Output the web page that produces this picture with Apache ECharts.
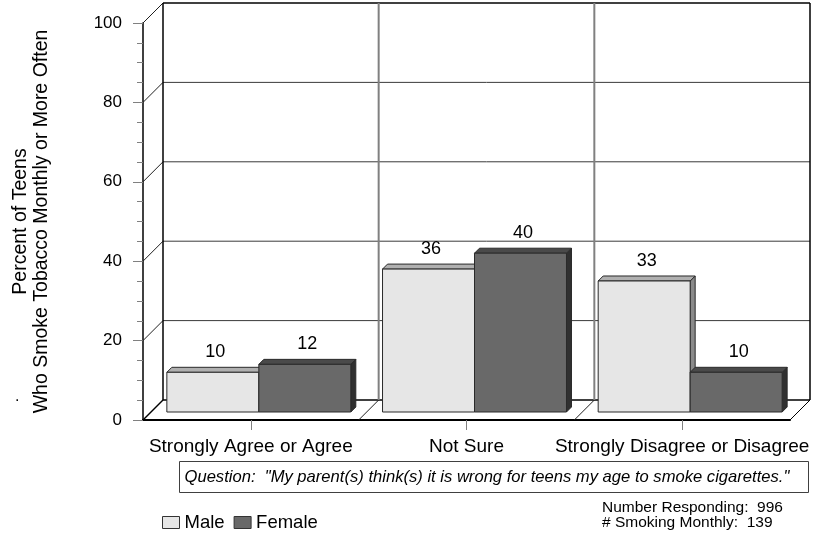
<!DOCTYPE html>
<html>
<head>
<meta charset="utf-8">
<script src="https://cdn.jsdelivr.net/npm/echarts@6/dist/echarts.min.js"></script>
<style>html,body{margin:0;padding:0;background:#fff;}#c{width:814px;height:535px;}</style>
</head>
<body>
<div id="c"></div>
<script>
const categories = ['Strongly Agree or Agree', 'Not Sure', 'Strongly Disagree or Disagree'];
const maleValues = [10, 36, 33];
const femaleValues = [12, 40, 10];
const yTicks = [0, 20, 40, 60, 80, 100];
const questionText = 'Question:  "My parent(s) think(s) it is wrong for teens my age to smoke cigarettes."';
const noteLines = ['Number Responding:  996', '# Smoking Monthly:  139'];

const FONT = '"Liberation Sans", Arial, sans-serif';
const WALL = 20;      // depth of the 3D box
const BAR_POS = 8;    // depth position of bars
const BAR_D = 5;      // bar thickness
const BAR_W = 0.4265; // fraction of band per bar

const chart = echarts.init(document.getElementById('c'), null, {renderer: 'canvas'});

function barRenderer(side, fill, top, sideCol) {
  return function (params, api) {
    const idx = api.value(0);
    const val = api.value(1);
    const p = api.coord([idx, val]);
    const p0 = api.coord([idx, 0]);
    const band = api.size([1, 0])[0];
    let x0, x1;
    if (side === 'left') { x0 = p[0] - band * BAR_W; x1 = p[0]; }
    else { x0 = p[0]; x1 = p[0] + band * BAR_W; }
    x0 += BAR_POS; x1 += BAR_POS;
    const yt = p[1] - BAR_POS, yb = p0[1] - BAR_POS;
    const D = BAR_D;
    const stroke = {stroke: '#2a2a2a', lineWidth: 1};
    return {
      type: 'group',
      children: [
        {type: 'polygon', shape: {points: [[x1, yt], [x1 + D, yt - D], [x1 + D, yb - D], [x1, yb]]},
          style: Object.assign({fill: sideCol}, stroke)},
        {type: 'polygon', shape: {points: [[x0, yt], [x0 + D, yt - D], [x1 + D, yt - D], [x1, yt]]},
          style: Object.assign({fill: top}, stroke)},
        {type: 'rect', shape: {x: x0, y: yt, width: x1 - x0, height: yb - yt},
          style: Object.assign({fill: fill}, stroke)},
        {type: 'text', style: {text: String(val), x: (x0 + x1) / 2 + D / 2, y: yt - D - 6,
          align: 'center', verticalAlign: 'bottom', fill: '#000', font: '18px ' + FONT}}
      ]
    };
  };
}

function gridRenderer(params, api) {
  const v = api.value(0);
  const cs = params.coordSys;
  const y = api.coord([0, v])[1];
  const xl = cs.x, xr = cs.x + cs.width;
  const isEdge = (v === yTicks[0] || v === yTicks[yTicks.length - 1]);
  const col = isEdge ? '#000' : '#3a3a3a';
  const children = [
    {type: 'line', shape: {x1: xl + WALL, y1: y - WALL, x2: xr + WALL, y2: y - WALL},
      style: {stroke: col, lineWidth: isEdge ? 1.5 : 1}}
  ];
  if (v !== yTicks[0]) {
    children.push({type: 'line', shape: {x1: xl, y1: y, x2: xl + WALL, y2: y - WALL},
      style: {stroke: '#202020', lineWidth: 1}});
  }
  return {type: 'group', children: children};
}

function frameRenderer(params, api) {
  const idx = api.value(0);
  const c = api.coord([idx, 0]);
  const yTop = api.coord([idx, yTicks[yTicks.length - 1]])[1];
  const band = api.size([1, 0])[0];
  const yb = c[1];
  const children = [];
  const xr = c[0] + band / 2;
  children.push({type: 'line', shape: {x1: xr, y1: yb, x2: xr + WALL, y2: yb - WALL},
    style: {stroke: idx === categories.length - 1 ? '#000' : '#202020', lineWidth: 1}});
  if (idx < categories.length - 1) {
    children.push({type: 'line', shape: {x1: xr + WALL, y1: yTop - WALL, x2: xr + WALL, y2: yb - WALL},
      style: {stroke: '#808080', lineWidth: 2}});
  } else {
    children.push({type: 'line', shape: {x1: xr + WALL, y1: yTop - WALL, x2: xr + WALL, y2: yb - WALL},
      style: {stroke: '#000', lineWidth: 1.5}});
  }
  if (idx === 0) {
    const xl = c[0] - band / 2;
    children.push({type: 'line', shape: {x1: xl, y1: yb, x2: xl + WALL, y2: yb - WALL},
      style: {stroke: '#000', lineWidth: 1.5}});
    children.push({type: 'line', shape: {x1: xl + WALL, y1: yTop - WALL, x2: xl + WALL, y2: yb - WALL},
      style: {stroke: '#000', lineWidth: 1.5}});
  }
  return {type: 'group', children: children};
}

const option = {
  backgroundColor: '#fff',
  animation: false,
  grid: {left: 143, right: 24, top: 23, bottom: 115},
  legend: {
    left: 157, top: 508, itemWidth: 17, itemHeight: 12, itemGap: 9,
    icon: 'rect',
    textStyle: {fontFamily: FONT, fontSize: 18.5, color: '#000'},
    data: [
      {name: 'Male', itemStyle: {color: '#e6e6e6', borderColor: '#333', borderWidth: 1}},
      {name: 'Female', itemStyle: {color: '#696969', borderColor: '#333', borderWidth: 1}}
    ]
  },
  xAxis: {
    type: 'category', data: categories, boundaryGap: true,
    axisLine: {show: true, lineStyle: {color: '#000', width: 2}},
    axisTick: {show: true, alignWithLabel: true, length: 10, lineStyle: {color: '#808080', width: 1}},
    axisLabel: {margin: 17, fontFamily: FONT, fontSize: 19, color: '#000', interval: 0},
    splitLine: {show: false}
  },
  yAxis: {
    type: 'value', min: 0, max: 100, interval: 20,
    name: 'Percent of Teens\nWho Smoke Tobacco Monthly or More Often',
    nameLocation: 'middle', nameRotate: 90, nameGap: 91,
    nameTextStyle: {fontFamily: FONT, fontSize: 19.5, lineHeight: 21, color: '#000'},
    axisLine: {show: true, lineStyle: {color: '#000', width: 1.5}},
    axisTick: {show: true, length: 10, lineStyle: {color: '#808080', width: 1}},
    minorTick: {show: true, splitNumber: 4, length: 6, lineStyle: {color: '#808080', width: 1}},
    axisLabel: {margin: 21, fontFamily: FONT, fontSize: 17, color: '#000'},
    splitLine: {show: false}
  },
  graphic: [
    {type: 'text', left: 15, top: 389, style: {text: '.', font: '16px ' + FONT, fill: '#000'}},
    {type: 'group', left: 179, top: 461, children: [
      {type: 'rect', shape: {x: 0, y: 0, width: 629, height: 31},
        style: {fill: '#fff', stroke: '#404040', lineWidth: 1}},
      {type: 'text', style: {text: questionText, x: 5, y: 16, verticalAlign: 'middle',
        font: 'italic 16.6px ' + FONT, fill: '#000'}}
    ]},
    {type: 'text', left: 602, top: 500, style: {text: noteLines.join('\n'), lineHeight: 15,
      font: '15.5px ' + FONT, fill: '#000'}}
  ],
  series: [
    {type: 'custom', name: 'grid', z: 1, silent: true, renderItem: gridRenderer,
      data: yTicks.map(v => [v]), encode: {y: 0}},
    {type: 'custom', name: 'frame', z: 1, silent: true, renderItem: frameRenderer,
      data: categories.map((c, i) => [i]), encode: {x: 0}},
    {type: 'custom', name: 'Male', z: 3, renderItem: barRenderer('left', '#e6e6e6', '#b0b0b0', '#8a8a8a'),
      itemStyle: {color: '#e6e6e6', borderColor: '#333', borderWidth: 1},
      data: maleValues.map((v, i) => [i, v]), encode: {x: 0, y: 1}},
    {type: 'custom', name: 'Female', z: 3, renderItem: barRenderer('right', '#696969', '#4a4a4a', '#303030'),
      itemStyle: {color: '#696969', borderColor: '#333', borderWidth: 1},
      data: femaleValues.map((v, i) => [i, v]), encode: {x: 0, y: 1}}
  ]
};
chart.setOption(option);
</script>
</body>
</html>
